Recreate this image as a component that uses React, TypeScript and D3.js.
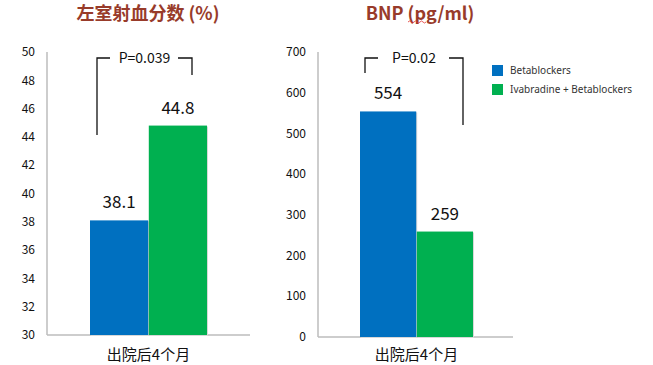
import React from "react";
import * as d3 from "d3";

const groups = ["Betablockers", "Ivabradine + Betablockers"];
const category = "出院后4个月";
const efValues = [38.1, 44.8];
const bnpValues = [554, 259];
const efTitle = "左室射血分数 (%)";
const bnpTitle = "BNP (pg/ml)";
const efP = "P=0.039";
const bnpP = "P=0.02";
const colors = ["#0070C0", "#00B050"];

const W = 653;
const H = 365;
const FONT = "'Noto Sans CJK SC', 'Noto Sans', sans-serif";

function Panel({ values, domain, tickCount, axisX, axisEnd, baseY, topY, barRange, title, titleX, pText, bracket }) {
  const y = d3.scaleLinear(domain, [baseY, topY]);
  const x = d3.scaleBand().domain(groups).range(barRange).paddingInner(0.01);
  const ticks = y.ticks(tickCount);
  const midX = (barRange[0] + barRange[1]) / 2;
  return (
    <g>
      <text x={titleX} y={20} textAnchor="middle" fontFamily={FONT} fontWeight="bold" fontSize={18} fill="#983B2A">
        {title}
      </text>
      {ticks.map((t) => (
        <text key={t} x={axisX - 12} y={y(t)} dy="0.35em" textAnchor="end" fontFamily={FONT} fontSize={12} fill="#111">
          {t}
        </text>
      ))}
      <line x1={axisX} x2={axisX} y1={topY} y2={baseY} stroke="#bdbdbd" strokeWidth={1.5} />
      <line x1={axisX} x2={axisEnd} y1={baseY} y2={baseY} stroke="#bdbdbd" strokeWidth={1.5} />
      {groups.map((g, i) => (
        <g key={g}>
          <rect x={x(g)! + 1} y={y(values[i]) + 1} width={x.bandwidth()} height={baseY - y(values[i])} fill="#d8d8d8" />
          <rect x={x(g)} y={y(values[i])} width={x.bandwidth()} height={baseY - y(values[i])} fill={colors[i]} />
          <text x={x(g)! + x.bandwidth() / 2} y={y(values[i]) - 12} textAnchor="middle" fontFamily={FONT} fontSize={17} fill="#111">
            {values[i]}
          </text>
        </g>
      ))}
      <text x={midX} y={360} textAnchor="middle" fontFamily={FONT} fontSize={15} fill="#111">
        {category}
      </text>
      <path
        d={`M${bracket.x1},${bracket.y1}V${bracket.top}H${bracket.x1 + 13}M${bracket.x2 - 14},${bracket.top}H${bracket.x2}V${bracket.y2}`}
        fill="none"
        stroke="#111"
        strokeWidth={1.3}
      />
      <text x={(bracket.x1 + bracket.x2) / 2} y={bracket.top + 5} textAnchor="middle" fontFamily={FONT} fontSize={14} fill="#111">
        {pText}
      </text>
    </g>
  );
}

export default function App() {
  return (
    <svg width={W} height={H} style={{ position: "absolute", left: 0, top: 0, background: "#fff" }}>
      <Panel
        values={efValues}
        domain={[30, 50]}
        tickCount={10}
        axisX={47}
        axisEnd={250}
        baseY={335}
        topY={52}
        barRange={[90, 207]}
        title={efTitle}
        titleX={148}
        pText={efP}
        bracket={{ x1: 97, x2: 192, top: 58, y1: 135, y2: 75 }}
      />
      <Panel
        values={bnpValues}
        domain={[0, 700]}
        tickCount={7}
        axisX={318}
        axisEnd={513}
        baseY={337}
        topY={52}
        barRange={[360, 473]}
        title={bnpTitle}
        titleX={420}
        pText={bnpP}
        bracket={{ x1: 365, x2: 463, top: 58, y1: 73, y2: 125 }}
      />
      <path d="M408,22q1.5,-2 3,0t3,0t3,0t3,0t3,0t3,0" fill="none" stroke="#e03030" strokeWidth={0.8} />
      {groups.map((g, i) => (
        <g key={g}>
          <rect x={492} y={65 + i * 19} width={11} height={11} fill={colors[i]} />
          <text x={510} y={70.5 + i * 19} dy="0.35em" fontFamily="'Noto Sans', sans-serif" fontSize={10} fill="#333">
            {g}
          </text>
        </g>
      ))}
    </svg>
  );
}
